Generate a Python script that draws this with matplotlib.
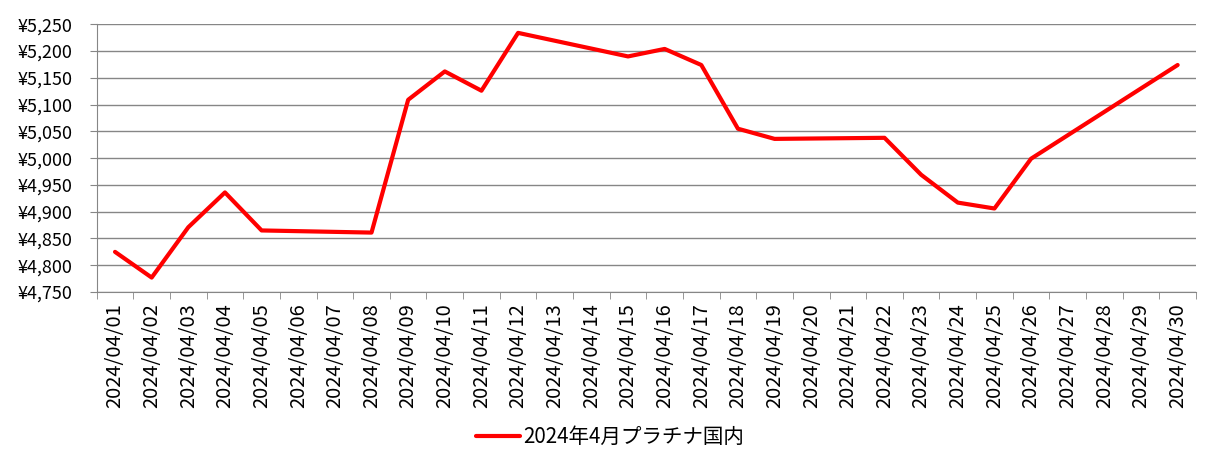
import numpy as np
import matplotlib
matplotlib.use("Agg")
import matplotlib.pyplot as plt
from matplotlib.ticker import FuncFormatter

plt.rcParams['font.family'] = ['Noto Sans CJK JP', 'DejaVu Sans']

dates = [f"2024/04/{d:02d}" for d in range(1, 31)]
# None = no quote that day (weekend / holiday), line joins across
prices = [4825, 4777, 4871, 4936, 4865, None, None, 4861, 5109, 5162,
          5126, 5234, None, None, 5190, 5204, 5174, 5055, 5036, None,
          None, 5038, 4969, 4917, 4906, 4999, None, None, None, 5174]
series_name = "2024年4月プラチナ国内"

grid_color = "#868686"

x = [i for i, p in enumerate(prices) if p is not None]
y = [p for p in prices if p is not None]

fig = plt.figure(figsize=(12.21, 4.71), dpi=100)
ax = fig.add_axes([0.0792, 0.380, 0.9003, 0.5684])

ax.plot(x, y, color="#ff0000", linewidth=3, solid_joinstyle="round",
        solid_capstyle="round", label=series_name, zorder=3)

ax.set_xlim(-0.5, 29.5)
ax.set_ylim(4750, 5250)
ax.set_yticks(np.arange(4750, 5251, 50))
ax.yaxis.set_major_formatter(FuncFormatter(lambda v, p: f"¥{v:,.0f}"))
ax.grid(axis="y", color=grid_color, linewidth=1)
ax.set_axisbelow(True)

ax.set_xticks(range(len(dates)))
ax.set_xticklabels(dates, rotation=90, fontsize=14.5)
ax.set_xticks(np.arange(-0.5, len(dates)), minor=True)
ax.tick_params(axis="x", which="major", length=0, pad=8, colors="black")
ax.tick_params(axis="x", which="minor", length=5, color=grid_color)
ax.tick_params(axis="y", length=5, color=grid_color, labelsize=12.9, pad=12.5)

for s in ["top", "right"]:
    ax.spines[s].set_visible(False)
for s in ["left", "bottom"]:
    ax.spines[s].set_color(grid_color)

fig.legend(loc="center", bbox_to_anchor=(0.5, 0.072), frameon=False,
           fontsize=14.8, handlelength=2.1, handletextpad=0.2)

fig.savefig("out.png", dpi=100)
